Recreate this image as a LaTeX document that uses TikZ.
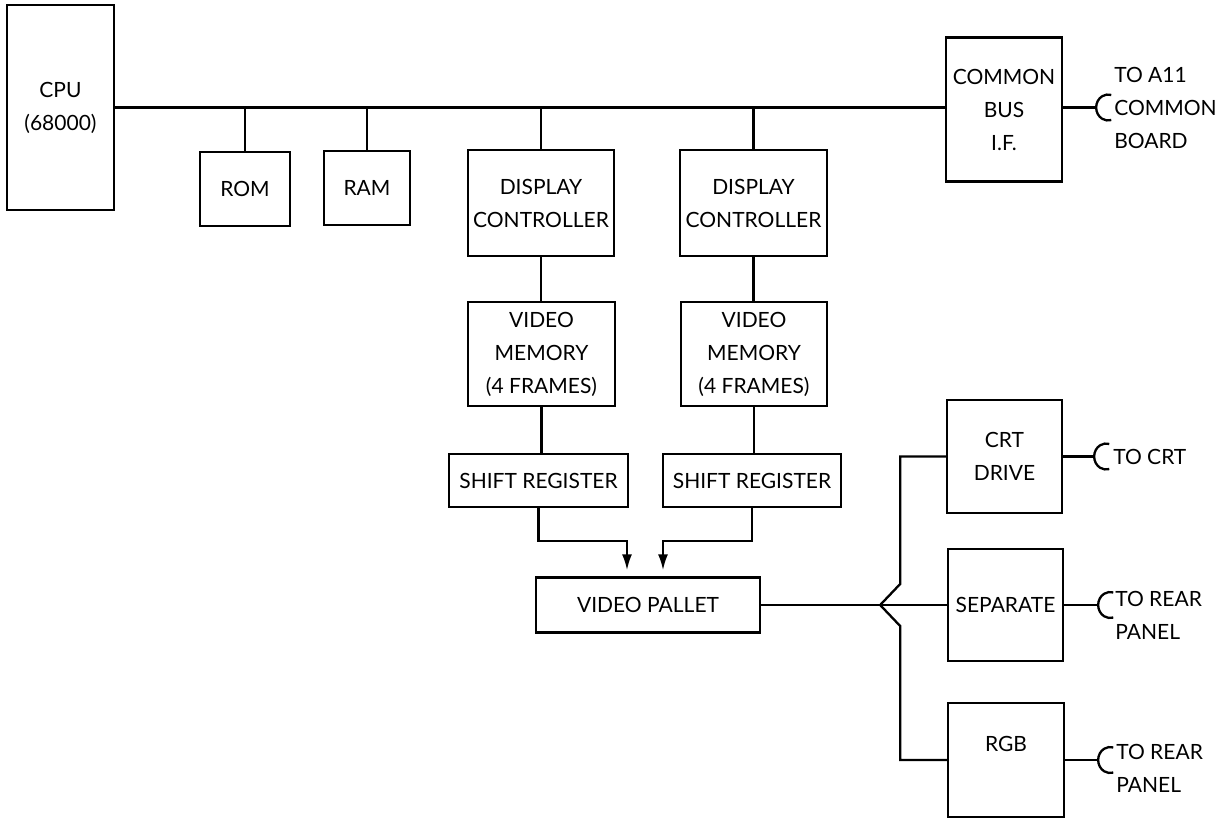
\documentclass[tikz,border=0pt]{standalone}
\usepackage{fontspec}
\setmainfont{Lato}
\usetikzlibrary{arrows.meta}

\tikzset{jack/.pic={\draw (0,0) arc[start angle=180, end angle=75, x radius=12pt, y radius=13pt] (0,0) arc[start angle=180, end angle=285, x radius=12pt, y radius=13pt];}}

\begin{document}
\begin{tikzpicture}[x=1pt, y=-1pt, line width=2.3pt, every node/.style={font=\fontsize{21}{33}\selectfont}, >={Latex[length=16pt, width=10pt]},
	blk/.style={draw, inner sep=0pt, align=center},
	lbl/.style={anchor=west, align=left, inner sep=0pt}]
	\useasboundingbox (0,0) rectangle (1219,819);
	\node[blk, minimum width=107, minimum height=205] (cpu) at (60.5,107.5) {CPU\\(68000)};
	\node[blk, minimum width=90, minimum height=74] (rom) at (245,189) {ROM};
	\node[blk, minimum width=86, minimum height=74] (ram) at (367,188) {RAM};
	\node[blk, minimum width=146, minimum height=106] (dc1) at (541,203) {DISPLAY\\CONTROLLER};
	\node[blk, minimum width=147, minimum height=106] (dc2) at (753.5,203) {DISPLAY\\CONTROLLER};
	\node[blk, minimum width=116, minimum height=144] (bif) at (1004,109.5) {COMMON\\BUS\\I.F.};
	\node[blk, minimum width=147, minimum height=104] (vm1) at (541.5,354) {VIDEO\\MEMORY\\(4 FRAMES)};
	\node[blk, minimum width=146, minimum height=104] (vm2) at (754,354) {VIDEO\\MEMORY\\(4 FRAMES)};
	\node[blk, minimum width=179, minimum height=53] (sr1) at (538.5,480.5) {SHIFT REGISTER};
	\node[blk, minimum width=178, minimum height=53] (sr2) at (752,480.5) {SHIFT REGISTER};
	\node[blk, minimum width=224, minimum height=55] (pal) at (648,605) {VIDEO PALLET};
	\node[blk, minimum width=115, minimum height=113] (crt) at (1004.5,456.5) {CRT\\DRIVE};
	\node[blk, minimum width=115, minimum height=112] (sep) at (1005.5,605) {SEPARATE};
	\node[blk, minimum width=116, minimum height=114] (rgb) at (1006,760) {RGB\\\mbox{}};
	\draw (cpu.east) -- (cpu.east -| bif.west);
	\draw (rom.north) -- (rom.north |- cpu.east);
	\draw (ram.north) -- (ram.north |- cpu.east);
	\draw (dc1.north) -- (dc1.north |- cpu.east);
	\draw (dc2.north) -- (dc2.north |- cpu.east);
	\draw (dc1.south) -- (dc1.south |- vm1.north);
	\draw (dc2.south) -- (dc2.south |- vm2.north);
	\draw (vm1.south) -- (vm1.south |- sr1.north);
	\draw (vm2.south) -- (vm2.south |- sr2.north);
	\draw[->] (sr1.south) -- ++(0,33) -| ([xshift=-21pt, yshift=6pt]pal.north);
	\draw[->] (sr2.south) -- ++(0,33) -| ([xshift=15pt, yshift=6pt]pal.north);
	\draw (pal.east) -- (sep.west);
	\draw (pal.east) ++(119,0) coordinate (fork) -- ++(20,-21) |- (crt.west);
	\draw (fork) -- ++(20,21) |- (rgb.west);
	\draw (bif.east |- cpu.east) -- ++(33,0) coordinate (j1);
	\draw (crt.east) -- ++(31,0) coordinate (j2);
	\draw (sep.east) -- ++(34,0) coordinate (j3);
	\draw (rgb.east) -- ++(33,0) coordinate (j4);
	\pic at (j1) {jack};
	\pic at (j2) {jack};
	\pic at (j3) {jack};
	\pic at (j4) {jack};
	\node[lbl] (tobus) at ([xshift=17pt]j1) {TO A11\\COMMON\\BOARD};
	\node[lbl] (tocrt) at ([xshift=18pt]j2) {TO CRT};
	\node[lbl] (torear1) at ([xshift=16pt, yshift=-10pt]j3) {TO REAR\\PANEL};
	\node[lbl] (torear2) at ([xshift=17pt, yshift=-8pt]j4) {TO REAR\\PANEL};
\end{tikzpicture}
\end{document}
